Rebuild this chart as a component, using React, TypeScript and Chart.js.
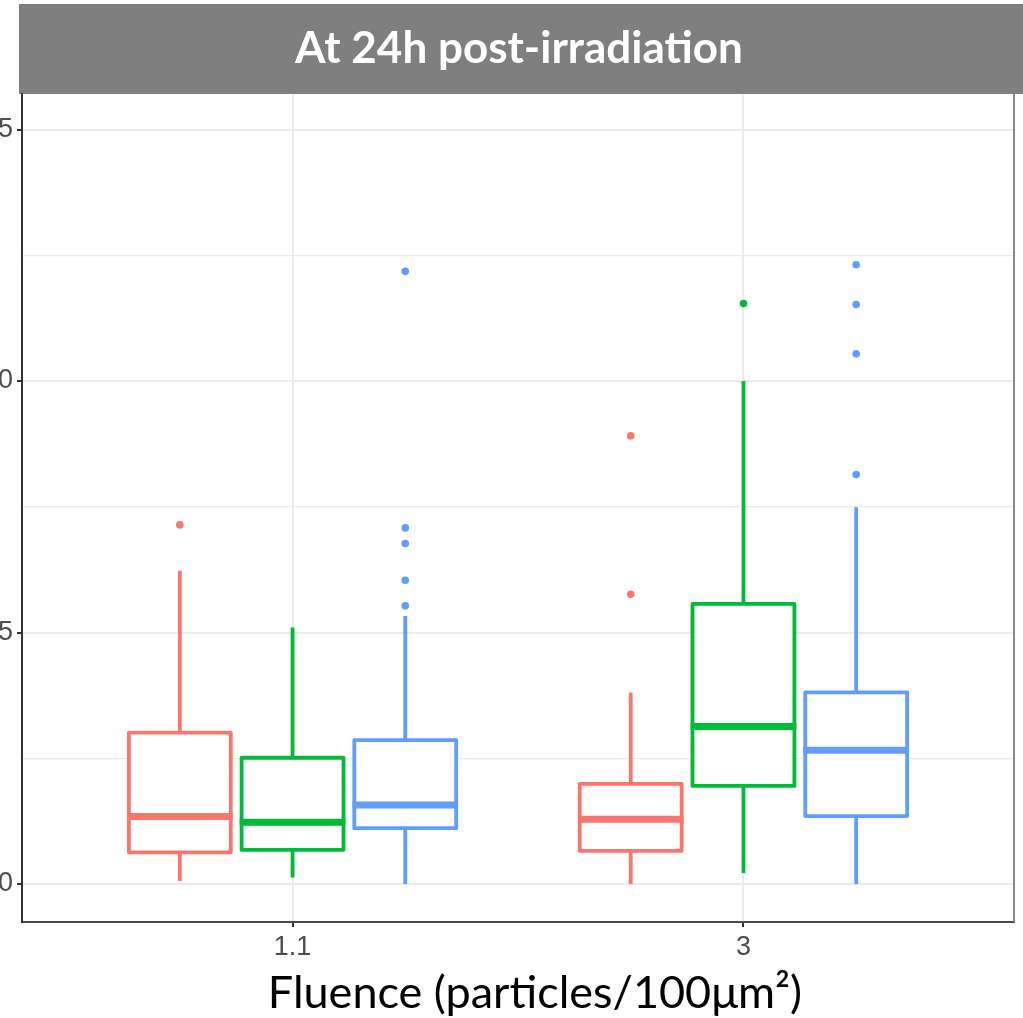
import React, { useEffect, useRef } from 'react';
import { Chart, registerables } from 'chart.js';

Chart.register(...registerables);

// ---- data ----
const categories = ['1.1', '3'];
const chartTitle = 'At 24h post-irradiation';
const xAxisTitle = 'Fluence (particles/100μm²)';
const yTickValues = [0, 2.5, 5, 7.5, 10, 12.5, 15];

// series order: red, green, blue ; each array indexed by category
const whiskerLow = [
  [0.06, 0.0],
  [0.13, 0.22],
  [0.0, 0.0],
];
const quartile1 = [
  [0.63, 0.66],
  [0.68, 1.95],
  [1.11, 1.35],
];
const medians = [
  [1.34, 1.29],
  [1.23, 3.13],
  [1.57, 2.66],
];
const quartile3 = [
  [3.01, 1.99],
  [2.51, 5.57],
  [2.86, 3.81],
];
const whiskerHigh = [
  [6.23, 3.81],
  [5.1, 10.0],
  [5.33, 7.49],
];
const outliersRed = [[7.14], [8.91, 5.76]];
const outliersGreen = [[], [11.54]];
const outliersBlue = [[7.08, 6.77, 6.04, 5.53, 12.18], [12.31, 11.52, 10.54, 8.14]];

// ---- styles ----
const seriesColors = ['#F8766D', '#00BA38', '#619CFF'];
const dodge = [-0.25, 0, 0.25];
const boxHalf = 0.113;

const outlierSets = [outliersRed, outliersGreen, outliersBlue];

const scatterData = outlierSets.map((sets, g) => {
  const pts: { x: number; y: number }[] = [];
  sets.forEach((vals, c) => vals.forEach((v) => pts.push({ x: c + 1 + dodge[g], y: v })));
  return pts;
});

const boxPlugin = {
  id: 'boxes',
  beforeDatasetsDraw(chart: any) {
    const { ctx, scales, chartArea } = chart;
    const xs = scales.x;
    const ys = scales.y;
    ctx.save();
    ctx.beginPath();
    ctx.rect(chartArea.left, chartArea.top, chartArea.right - chartArea.left, chartArea.bottom - chartArea.top);
    ctx.clip();
    for (let g = 0; g < 3; g++) {
      for (let c = 0; c < categories.length; c++) {
        const cx = xs.getPixelForValue(c + 1 + dodge[g]);
        const left = xs.getPixelForValue(c + 1 + dodge[g] - boxHalf);
        const right = xs.getPixelForValue(c + 1 + dodge[g] + boxHalf);
        const yLo = ys.getPixelForValue(whiskerLow[g][c]);
        const yQ1 = ys.getPixelForValue(quartile1[g][c]);
        const yMed = ys.getPixelForValue(medians[g][c]);
        const yQ3 = ys.getPixelForValue(quartile3[g][c]);
        const yHi = ys.getPixelForValue(whiskerHigh[g][c]);
        ctx.strokeStyle = seriesColors[g];
        ctx.lineWidth = 3.8;
        ctx.lineJoin = 'round';
        ctx.lineCap = 'butt';
        // whiskers
        ctx.beginPath();
        ctx.moveTo(cx, yHi);
        ctx.lineTo(cx, yQ3);
        ctx.moveTo(cx, yQ1);
        ctx.lineTo(cx, yLo);
        ctx.stroke();
        // box
        ctx.fillStyle = '#ffffff';
        ctx.fillRect(left, yQ3, right - left, yQ1 - yQ3);
        ctx.strokeRect(left, yQ3, right - left, yQ1 - yQ3);
        // median
        ctx.lineWidth = 7;
        ctx.beginPath();
        ctx.moveTo(left - 1.9, yMed);
        ctx.lineTo(right + 1.9, yMed);
        ctx.stroke();
      }
    }
    ctx.restore();
  },
};

const framePlugin = {
  id: 'frame',
  beforeDraw(chart: any) {
    const { ctx, width } = chart;
    ctx.save();
    ctx.fillStyle = '#ffffff';
    ctx.fillRect(0, 0, width, chart.height);
    ctx.fillStyle = '#7F7F7F';
    ctx.fillRect(49, 4, width - 49, 90);
    ctx.restore();
  },
  afterDraw(chart: any) {
    const { ctx, chartArea } = chart;
    ctx.save();
    // right border of panel
    ctx.strokeStyle = '#8a8a8a';
    ctx.lineWidth = 2;
    ctx.beginPath();
    ctx.moveTo(chartArea.right, chartArea.top);
    ctx.lineTo(chartArea.right, chartArea.bottom);
    ctx.stroke();
    // strip title
    ctx.fillStyle = '#ffffff';
    ctx.font = 'bold 44px Lato';
    ctx.textAlign = 'center';
    ctx.textBaseline = 'middle';
    ctx.fillText(chartTitle, 549, 49);
    // x axis title
    ctx.fillStyle = '#000000';
    ctx.font = '45px Lato';
    ctx.fillText(xAxisTitle, 565, 993);
    ctx.restore();
  },
};

export default function App() {
  const ref = useRef<HTMLCanvasElement>(null);
  useEffect(() => {
    if (!ref.current) return;
    const chart = new Chart(ref.current, {
      type: 'scatter',
      data: {
        datasets: scatterData.map((pts, g) => ({
          label: 'group' + g,
          data: pts,
          backgroundColor: seriesColors[g],
          borderColor: seriesColors[g],
          borderWidth: 0,
          pointRadius: 3.8,
          pointHoverRadius: 3.8,
        })),
      },
      options: {
        animation: false,
        responsive: false,
        events: [],
        layout: { padding: { left: 0, right: 9, top: 94, bottom: 0 } },
        plugins: {
          legend: { display: false },
          tooltip: { enabled: false },
          title: { display: false },
        },
        scales: {
          x: {
            type: 'linear',
            min: 0.4,
            max: 2.6,
            afterBuildTicks: (scale: any) => {
              scale.ticks = categories.map((_, i) => ({ value: i + 1 }));
            },
            afterFit: (scale: any) => {
              scale.height = 96;
            },
            ticks: {
              autoSkip: false,
              maxRotation: 0,
              color: '#4D4D4D',
              padding: 4,
              font: { family: 'Liberation Sans', size: 27 },
              callback: (v: any) => categories[Math.round(Number(v)) - 1] ?? '',
            },
            grid: {
              color: '#EBEBEB',
              lineWidth: 2,
              drawTicks: true,
              tickLength: 5,
              tickColor: '#333333',
              tickWidth: 2,
            },
            border: { display: true, color: '#4a4a4a', width: 2 },
          },
          y: {
            type: 'linear',
            min: -0.755,
            max: 15.706,
            afterBuildTicks: (scale: any) => {
              scale.ticks = yTickValues.map((v) => ({ value: v }));
            },
            afterFit: (scale: any) => {
              scale.width = 52;
            },
            ticks: {
              autoSkip: false,
              color: '#4D4D4D',
              padding: 4,
              font: { family: 'Liberation Sans', size: 27 },
              callback: (v: any) => (Number(v) % 5 === 0 ? String(v) : ''),
            },
            grid: {
              color: '#EBEBEB',
              lineWidth: (ctx: any) => (ctx.tick && ctx.tick.value % 5 === 0 ? 2 : 1.2),
              drawTicks: true,
              tickLength: 5,
              tickColor: (ctx: any) => (ctx.tick && ctx.tick.value % 5 === 0 ? '#333333' : 'rgba(0,0,0,0)'),
              tickWidth: 2,
            },
            border: { display: true, color: '#333333', width: 2 },
          },
        },
      },
      plugins: [framePlugin, boxPlugin],
    } as any);
    return () => chart.destroy();
  }, []);
  return (
    <div
      style={{
        position: 'fixed',
        left: 0,
        top: 0,
        width: 1023,
        height: 1018,
        overflow: 'hidden',
        background: '#ffffff',
      }}
    >
      <canvas
        ref={ref}
        width={1053}
        height={1018}
        style={{ position: 'absolute', left: -30, top: 0, width: 1053, height: 1018, display: 'block' }}
      />
    </div>
  );
}
